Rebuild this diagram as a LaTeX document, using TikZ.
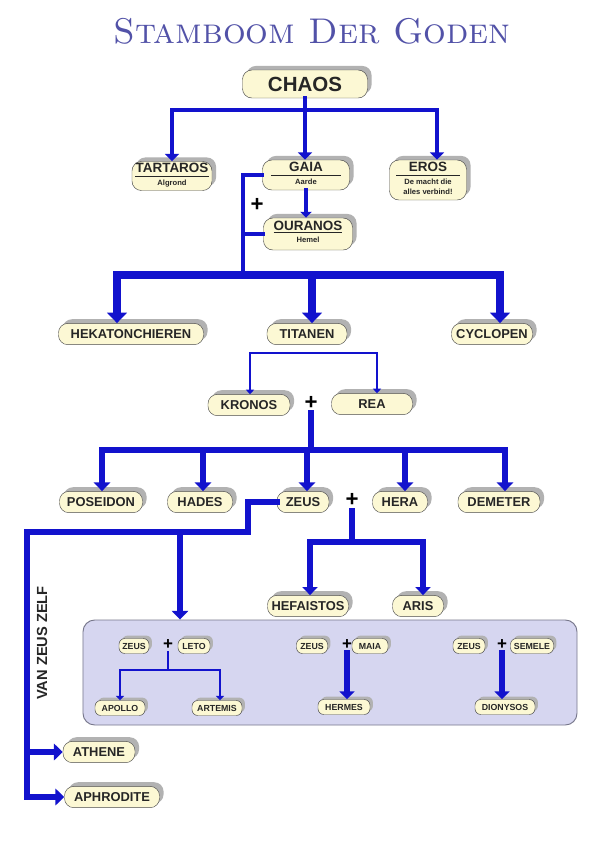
\documentclass[tikz,border=0pt]{standalone}
\usepackage{fontspec}
\newfontfamily\godfont{Liberation Sans}
\usetikzlibrary{arrows.meta,shadows,calc}

\definecolor{godblue}{RGB}{18,18,205}
\definecolor{godcream}{RGB}{252,248,212}
\definecolor{titleblue}{RGB}{82,82,168}
\definecolor{unionfill}{RGB}{214,214,240}
\definecolor{uniondraw}{RGB}{120,120,140}

\setlength\arrayrulewidth{0.7pt}
\renewcommand\arraystretch{0.8}
\newcommand\subline[1]{{\fontsize{6.5}{7.5}\selectfont #1}}

\tikzset{
  godbase/.style={draw=black!70, fill=godcream, text=black!85, inner sep=1pt},
  god/.style={godbase, rounded corners=8pt, minimum height=0.64cm,
    font=\godfont\bfseries\fontsize{11}{13}\selectfont,
    drop shadow={shadow xshift=3.5pt, shadow yshift=3.5pt, fill=black!30, opacity=1}},
  minigod/.style={godbase, rounded corners=5pt, minimum height=0.45cm,
    font=\godfont\bfseries\fontsize{7.5}{9}\selectfont,
    drop shadow={shadow xshift=2.5pt, shadow yshift=2.5pt, fill=black!30, opacity=1}},
  bond/.style={draw=godblue, line width=#1, line cap=rect},
  descent/.style={bond=#1, -{Triangle[width=0pt 2.8, length=0pt 1.5]}},
  plus/.style={font=\godfont\bfseries\fontsize{19}{19}\selectfont, inner sep=0pt},
}

\begin{document}
\begin{tikzpicture}[x=0.03cm,y=-0.03cm]
  \useasboundingbox [fill=white] (0,0) rectangle (604,855);

  \node [font=\fontsize{30.5}{30.5}\selectfont\scshape, text=titleblue] at (312,31) (title) {Stamboom Der Goden};

  % the first gods
  \node [god, minimum width=3.75cm, minimum height=0.84cm, font=\godfont\bfseries\fontsize{17.5}{20}\selectfont] at (305,84) (chaos) {CHAOS};
  \node [god, minimum width=2.4cm, minimum height=0.87cm, font=\godfont\bfseries\fontsize{11.5}{13}\selectfont] at (172,176) (tartaros)
    {\begin{tabular}{@{}c@{}}\makebox[2.2cm]{TARTAROS}\\\hline\subline{Algrond}\end{tabular}};
  \node [god, minimum width=2.61cm, minimum height=0.9cm, font=\godfont\bfseries\fontsize{11.5}{13}\selectfont] at (306,175) (gaia)
    {\begin{tabular}{@{}c@{}}\makebox[2.1cm]{GAIA}\\\hline\subline{Aarde}\end{tabular}};
  \node [god, minimum width=2.31cm, minimum height=1.2cm, font=\godfont\bfseries\fontsize{11.5}{13}\selectfont] at (428,180) (eros)
    {\begin{tabular}{@{}c@{}}\makebox[1.9cm]{EROS}\\\hline\subline{De macht die}\\[-2pt]\subline{alles verbind!}\end{tabular}};
  \node [god, minimum width=2.67cm, minimum height=0.96cm, font=\godfont\bfseries\fontsize{11.5}{13}\selectfont] at (308,234) (ouranos)
    {\begin{tabular}{@{}c@{}}\makebox[2.2cm]{\underline{OURANOS}}\\\subline{Hemel}\end{tabular}};

  \foreach \name/\x/\w/\txt in {hekaton/131/4.35/HEKATONCHIEREN, titanen/307/2.4/TITANEN, cyclopen/492/2.43/CYCLOPEN}
    \node [god, minimum width=\w cm] at (\x,334) (\name) {\txt};

  \node [god, minimum width=2.46cm] at (249,405) (kronos) {KRONOS};
  \node [god, minimum width=2.43cm] at (372,404) (rea) {REA};

  \foreach \name/\x/\w/\txt in {poseidon/101/2.49/POSEIDON, hades/200/1.95/HADES, zeus/303/1.56/ZEUS, hera/400/1.65/HERA, demeter/499/2.46/DEMETER}
    \node [god, minimum width=\w cm] at (\x,502) (\name) {\txt};

  \foreach \name/\x/\w/\txt in {hefaistos/308/2.43/HEFAISTOS, aris/418/1.53/ARIS}
    \node [god, minimum width=\w cm] at (\x,606) (\name) {\txt};

  \node [god, minimum width=2.16cm] at (99,752) (athene) {ATHENE};
  \node [god, minimum width=2.85cm] at (112,797) (aphrodite) {APHRODITE};

  \node [rotate=90, font=\godfont\bfseries\fontsize{12.5}{14}\selectfont, text=black!85] at (42,643) (vanzeus) {VAN ZEUS ZELF};

  % the other mothers of zeus' children
  \node [draw=uniondraw, fill=unionfill, line width=0.8pt, rounded corners=10pt, minimum width=14.82cm, minimum height=3.15cm] at (330,672.5) (union) {};

  \foreach \name/\x/\y/\w/\txt in {zeusleto/134/646/0.9/ZEUS, leto/194/646/0.96/LETO, apollo/120/708/1.5/APOLLO, artemis/217/708/1.5/ARTEMIS,
      zeusmaia/312/646/0.93/ZEUS, maia/370/646/1.08/MAIA, hermes/344/707/1.56/HERMES,
      zeussemele/469/646/0.96/ZEUS, semele/532/646/1.29/SEMELE, dionysos/505/707/1.8/DIONYSOS}
    \node [minigod, minimum width=\w cm] at (\x,\y) (\name) {\txt};

  \foreach \name/\x/\y in {plusgaia/257/205, pluskronos/311/403, plushera/352/500}
    \node [plus] at (\x,\y) (\name) {+};
  \foreach \name/\x/\y in {plusleto/168/645, plusmaia/347/645, plussemele/502/645}
    \node [plus, font=\godfont\bfseries\fontsize{14.5}{14.5}\selectfont] at (\x,\y) (\name) {+};

  % chaos
  \coordinate (chaosbar) at (305,110);
  \coordinate (chaosL) at (172,110);
  \coordinate (chaosR) at (437,110);
  \draw [bond=4.2pt] (chaos.south) -- (chaosbar);
  \draw [bond=4.2pt] (chaosL) -- (chaosR);
  \draw [descent=4.2pt] (chaosL) -- (tartaros.north -| chaosL);
  \draw [descent=4.2pt] (chaosbar) -- (gaia.north -| chaosbar);
  \draw [descent=4.2pt] (chaosR) -- (eros.north -| chaosR);

  % gaia + ouranos
  \coordinate (gaiabar) at (243,275);
  \draw [bond=3.4pt] (gaia.west) -| (gaiabar);
  \draw [bond=3.4pt] (ouranos.west) -- (ouranos.west -| gaiabar);
  \draw [descent=3.4pt] (gaia.south) -- (ouranos.north -| gaia.south);

  \coordinate (kinL) at (117,275);
  \coordinate (kinM) at (312,275);
  \coordinate (kinR) at (500,275);
  \draw [bond=6pt] (kinL) -- (kinR);
  \draw [descent=6pt] (kinL) -- (hekaton.north -| kinL);
  \draw [descent=6pt] (kinM) -- (titanen.north -| kinM);
  \draw [descent=6pt] (kinR) -- (cyclopen.north -| kinR);

  % titanen
  \coordinate (titL) at (250,353);
  \coordinate (titR) at (377,353);
  \draw [bond=2.5pt] (titL) -- (titR);
  \draw [descent=2.5pt] (titL) -- (kronos.north -| titL);
  \draw [descent=2.5pt] (titR) -- (rea.north -| titR);

  % kronos + rea
  \coordinate (kidsbar) at (311,450);
  \coordinate (kidsL) at (102,450);
  \coordinate (kidsR) at (505,450);
  \draw [bond=5pt, shorten <=3pt] (pluskronos.south) -- (kidsbar);
  \draw [bond=5pt] (kidsL) -- (kidsR);
  \foreach \name/\x in {poseidon/102, hades/203, zeus/307, hera/405, demeter/505}{
    \coordinate (drop\name) at (\x,450);
    \draw [descent=5pt] (drop\name) -- (\name.north -| drop\name);
  }

  % zeus + hera
  \coordinate (herabar) at (352,542);
  \coordinate (heraL) at (310,542);
  \coordinate (heraR) at (423,542);
  \draw [bond=4.5pt, shorten <=3pt] (plushera.south) -- (herabar);
  \draw [bond=4.5pt] (heraL) -- (heraR);
  \draw [descent=4.5pt] (heraL) -- (hefaistos.north -| heraL);
  \draw [descent=4.5pt] (heraR) -- (aris.north -| heraR);

  % zeus alone
  \coordinate (zeusturn) at (248,532);
  \coordinate (zeusleft) at (27,532);
  \coordinate (zeusdrop) at (180,532);
  \draw [bond=5pt] (zeus.west) -| (zeusturn) -- (zeusleft);
  \draw [descent=5pt] (zeusleft) |- (aphrodite.west);
  \draw [descent=5pt] (athene.west -| zeusleft) -- (athene.west);
  \draw [descent=5pt] (zeusdrop) -- (union.north -| zeusdrop);

  % inside the box
  \coordinate (letobar) at (168,670);
  \coordinate (letoL) at (120,670);
  \coordinate (letoR) at (220,670);
  \draw [bond=2.5pt, shorten <=2pt] (plusleto.south) -- (letobar);
  \draw [bond=2.5pt] (letoL) -- (letoR);
  \draw [descent=2.5pt] (letoL) -- (apollo.north -| letoL);
  \draw [descent=2.5pt] (letoR) -- (artemis.north -| letoR);
  \draw [descent=4.5pt, shorten <=2pt] (plusmaia.south) -- (hermes.north -| plusmaia.south);
  \draw [descent=4.5pt, shorten <=2pt] (plussemele.south) -- (dionysos.north -| plussemele.south);

\end{tikzpicture}
\end{document}
